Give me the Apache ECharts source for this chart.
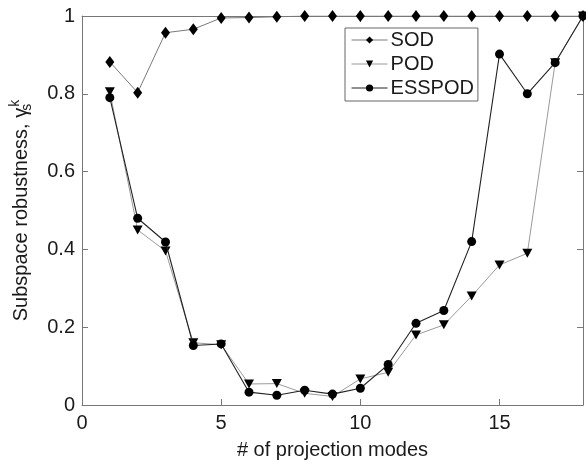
<!DOCTYPE html>
<html><head><meta charset="utf-8">
<script src="https://cdn.jsdelivr.net/npm/echarts@6/dist/echarts.min.js"></script>
<style>html,body{margin:0;padding:0;background:#fff}#c{width:586px;height:465px}</style>
</head><body><div id="c"></div>
<script>
const modes = [1,2,3,4,5,6,7,8,9,10,11,12,13,14,15,16,17,18];
const sod = [0.882,0.803,0.957,0.966,0.995,0.996,0.998,1,1,1,1,1,1,1,1,1,1,1];
const pod = [0.805,0.45,0.396,0.16,0.155,0.054,0.055,0.03,0.022,0.067,0.084,0.18,0.206,0.28,0.36,0.39,0.88,1];
const esspod = [0.79,0.48,0.419,0.153,0.157,0.033,0.025,0.038,0.028,0.043,0.104,0.21,0.243,0.42,0.902,0.80,0.88,1];
const xTicks = [0,5,10,15];
const yTicks = [0,0.2,0.4,0.6,0.8,1];

const pair = arr => modes.map((m,i)=>[m,arr[i]]);
const font = 'Liberation Sans, Arial, sans-serif';
const fs = 20;
const axisCol = '#777';
const txtCol = '#1a1a1a';
const sodCol = '#7a7a7a', podCol = '#9a9a9a', essCol = '#222';
const chart = echarts.init(document.getElementById('c'));
const baseAxis = {
  axisLine:{show:true,onZero:false,lineStyle:{color:axisCol,width:1}},
  axisTick:{show:true,inside:true,length:6,lineStyle:{color:axisCol}},
  splitLine:{show:false}
};
chart.setOption({
  animation:false,
  backgroundColor:'#fff',
  grid:{left:82,right:2,top:16,bottom:57},
  legend:{
    left:345, top:28, orient:'vertical',
    borderColor:'#666', borderWidth:1, backgroundColor:'#fff',
    padding:[2,4,3,6], itemGap:4, itemWidth:36, itemHeight:9,
    textStyle:{fontFamily:font,fontSize:fs,color:txtCol,padding:[0,0,0,-2]},
    data:[
      {name:'SOD',lineStyle:{color:sodCol,width:1}},
      {name:'POD',lineStyle:{color:podCol,width:1}},
      {name:'ESSPOD',lineStyle:{color:essCol,width:1.1}}
    ]
  },
  xAxis:[
    Object.assign({},baseAxis,{type:'value',min:0,max:18,interval:5,position:'bottom',
      name:'# of projection modes',nameLocation:'middle',nameGap:35,
      nameTextStyle:{fontFamily:font,fontSize:fs,color:txtCol},
      axisLabel:{fontFamily:font,fontSize:fs,color:txtCol,margin:8,
        formatter:v=>xTicks.includes(v)?String(v):''}}),
    Object.assign({},baseAxis,{type:'value',min:0,max:18,interval:5,position:'top',
      axisLabel:{show:false}})
  ],
  yAxis:[
    Object.assign({},baseAxis,{type:'value',min:0,max:1,interval:0.2,position:'left',
      name:'Subspace robustness, γ{s|s}{k|k}',nameLocation:'middle',nameGap:48,nameRotate:90,
      nameTextStyle:{fontFamily:font,fontSize:fs,color:txtCol,
        rich:{s:{fontFamily:font,fontSize:14,color:txtCol,verticalAlign:'bottom',padding:[8,0,0,0],width:1},
              k:{fontFamily:font,fontSize:14,color:txtCol,verticalAlign:'top',padding:[0,0,12,0]}}},
      axisLabel:{fontFamily:font,fontSize:fs,color:txtCol,margin:7,
        formatter:v=>yTicks.some(t=>Math.abs(t-v)<1e-9)?String(+v.toFixed(1)):''}}),
    Object.assign({},baseAxis,{type:'value',min:0,max:1,interval:0.2,position:'right',
      axisLabel:{show:false}})
  ],
  series:[
    {name:'SOD',type:'line',data:pair(sod),symbol:'diamond',symbolSize:[9,12],
     lineStyle:{color:sodCol,width:1},itemStyle:{color:'#000'},z:3},
    {name:'POD',type:'line',data:pair(pod),symbol:'triangle',symbolRotate:180,symbolSize:[10,9],
     lineStyle:{color:podCol,width:1},itemStyle:{color:'#000'},z:2},
    {name:'ESSPOD',type:'line',data:pair(esspod),symbol:'circle',symbolSize:9,
     lineStyle:{color:essCol,width:1.1},itemStyle:{color:'#000'},z:4}
  ]
});
</script></body></html>
